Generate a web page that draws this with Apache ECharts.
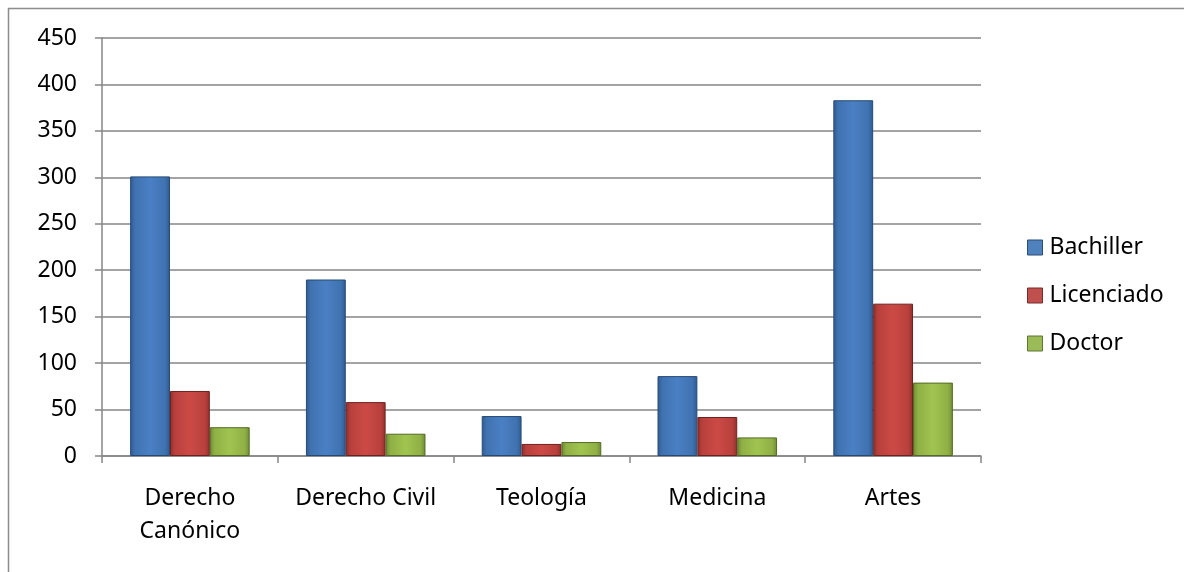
<!DOCTYPE html>
<html lang="es">
<head>
  <meta charset="UTF-8">
  <title>Grados</title>
  <script src="https://cdn.jsdelivr.net/npm/echarts@6/dist/echarts.min.js"></script>
  <style>
    html, body { margin: 0; padding: 0; background: #fff; }
  </style>
</head>
<body>
<div id="chart" style="width: 1184px;height: 572px;"></div>
<script>
  let categories = ['Derecho\nCanónico', 'Derecho Civil', 'Teología', 'Medicina', 'Artes']
  let bachiller = [301, 190, 43, 86, 383]
  let licenciado = [70, 58, 13, 42, 164]
  let doctor = [31, 24, 15, 20, 79]
  let yTicks = [0, 50, 100, 150, 200, 250, 300, 350, 400, 450]

  let font = 'Noto Sans'

  // relleno con efecto de bisel: bordes oscuros, centro claro
  function bevel(dark, mid, light) {
    return new echarts.graphic.LinearGradient(0, 0, 1, 0, [
      {offset: 0, color: dark},
      {offset: 0.12, color: mid},
      {offset: 0.5, color: light},
      {offset: 0.88, color: mid},
      {offset: 1, color: dark}
    ])
  }

  function serie(name, data, fill, border) {
    return {
      name: name,
      type: 'bar',
      data: data,
      barGap: 0,
      barCategoryGap: '32%',
      itemStyle: {color: fill, borderColor: border, borderWidth: 1},
      emphasis: {disabled: true}
    }
  }

  let myChart = echarts.init(document.getElementById('chart'))
  let option = {
    animation: false,
    // marco del gráfico: solo arriba y a la izquierda
    graphic: [
      {type: 'line', shape: {x1: 8, y1: 8.5, x2: 1184, y2: 8.5}, style: {stroke: '#8c8c8c', lineWidth: 1.5}},
      {type: 'line', shape: {x1: 8.5, y1: 8, x2: 8.5, y2: 572}, style: {stroke: '#8c8c8c', lineWidth: 1.5}}
    ],
    grid: {left: 102, right: 203, top: 38, bottom: 116},
    legend: {
      orient: 'vertical',
      left: 1022,
      top: 231,
      itemGap: 25,
      itemWidth: 15,
      itemHeight: 15,
      icon: 'rect',
      textStyle: {fontFamily: font, fontSize: 23, lineHeight: 23, color: '#000', padding: [0, 0, 0, 2]},
      data: [
        {name: 'Bachiller', itemStyle: {color: '#4f81bd', borderColor: '#2c4d75', borderWidth: 1}},
        {name: 'Licenciado', itemStyle: {color: '#c0504d', borderColor: '#772c2a', borderWidth: 1}},
        {name: 'Doctor', itemStyle: {color: '#9bbb59', borderColor: '#5f7530', borderWidth: 1}}
      ]
    },
    xAxis: {
      type: 'category',
      data: categories,
      axisLine: {lineStyle: {color: '#868686', width: 1.5}},
      axisTick: {show: true, length: 7, lineStyle: {color: '#868686', width: 1.5}},
      axisLabel: {interval: 0, fontFamily: font, fontSize: 23, color: '#000', margin: 26, lineHeight: 33}
    },
    yAxis: {
      type: 'value',
      min: yTicks[0],
      max: yTicks[yTicks.length - 1],
      interval: 50,
      axisLine: {show: true, lineStyle: {color: '#868686', width: 1.5}},
      axisTick: {show: true, length: 7, lineStyle: {color: '#868686', width: 1.5}},
      axisLabel: {fontFamily: font, fontSize: 23, color: '#000', margin: 25},
      splitLine: {lineStyle: {color: '#868686', width: 1.5}}
    },
    series: [
      serie('Bachiller', bachiller, bevel('#2f5a8f', '#3f72b0', '#4a80c4'), '#274a75'),
      serie('Licenciado', licenciado, bevel('#8e2f2c', '#b8403c', '#cc4a46'), '#6e2220'),
      serie('Doctor', doctor, bevel('#6d8a34', '#8fb045', '#a0c450'), '#536b26')
    ]
  }
  myChart.setOption(option)
</script>
</body>
</html>
